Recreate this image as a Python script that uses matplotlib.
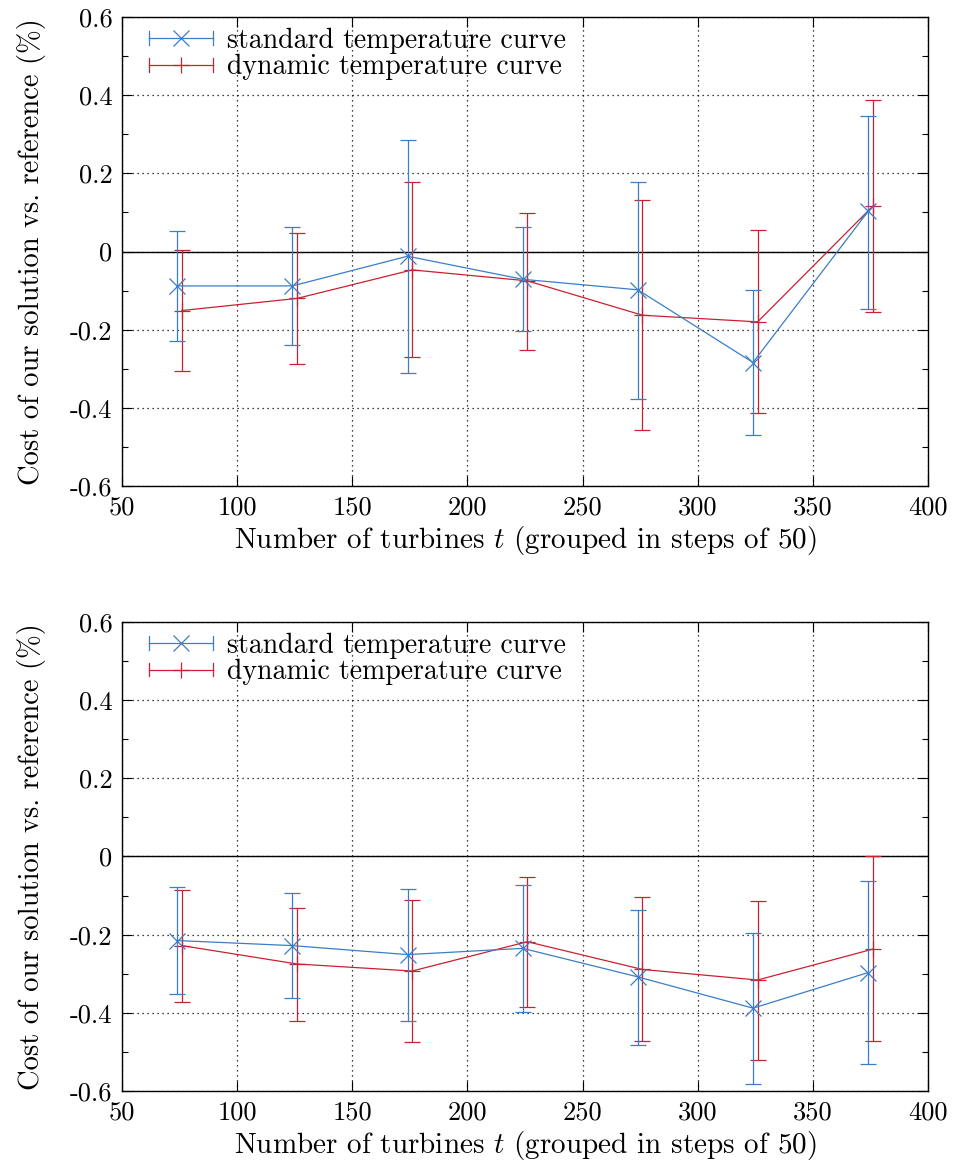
import matplotlib
matplotlib.use("Agg")
import matplotlib.pyplot as plt
from matplotlib.ticker import MultipleLocator
from matplotlib.legend_handler import HandlerBase
from matplotlib.lines import Line2D

plt.rcParams['font.family'] = 'cmr10'
plt.rcParams['mathtext.fontset'] = 'cm'
plt.rcParams['axes.unicode_minus'] = False
plt.rcParams['axes.formatter.use_mathtext'] = False

# group positions (blue slightly left, red slightly right of group centre)
x_std = [74, 124, 174, 224, 274, 324, 374]
x_dyn = [76, 126, 176, 226, 276, 326, 376]

# top panel
top_std = [-0.088, -0.088, -0.012, -0.071, -0.098, -0.284, 0.103]
top_std_hi = [0.052, 0.063, 0.285, 0.064, 0.179, -0.099, 0.348]
top_std_lo = [-0.230, -0.239, -0.312, -0.204, -0.377, -0.470, -0.146]
top_dyn = [-0.151, -0.120, -0.047, -0.075, -0.163, -0.180, 0.116]
top_dyn_hi = [0.003, 0.047, 0.178, 0.098, 0.132, 0.054, 0.388]
top_dyn_lo = [-0.305, -0.287, -0.270, -0.251, -0.457, -0.413, -0.156]

# bottom panel
bot_std = [-0.215, -0.228, -0.251, -0.235, -0.308, -0.388, -0.297]
bot_std_hi = [-0.079, -0.094, -0.083, -0.073, -0.137, -0.195, -0.062]
bot_std_lo = [-0.352, -0.361, -0.421, -0.397, -0.481, -0.581, -0.532]
bot_dyn = [-0.228, -0.275, -0.293, -0.218, -0.289, -0.316, -0.237]
bot_dyn_hi = [-0.085, -0.132, -0.112, -0.052, -0.104, -0.114, 0.0]
bot_dyn_lo = [-0.371, -0.420, -0.474, -0.384, -0.473, -0.520, -0.473]

blue = '#3a7ec8'
red = '#cc2030'


# gnuplot-like legend key: horizontal bar with end caps and the point in the middle
class HBarHandler(HandlerBase):
    def __init__(self, color, marker):
        super().__init__()
        self.color = color
        self.marker = marker

    def create_artists(self, legend, orig_handle, xdescent, ydescent,
                       width, height, fontsize, trans):
        y = height / 2 - ydescent
        x0, x1 = -xdescent, width - xdescent
        cap = 5
        arts = [
            Line2D([x0, x1], [y, y], color=self.color, lw=0.9),
            Line2D([x0, x0], [y - cap, y + cap], color=self.color, lw=0.9),
            Line2D([x1, x1], [y - cap, y + cap], color=self.color, lw=0.9),
            Line2D([(x0 + x1) / 2], [y], color=self.color, marker=self.marker,
                   ms=12, mew=0.9, ls='none'),
        ]
        for a in arts:
            a.set_transform(trans)
        return arts


fig = plt.figure(figsize=(9.59, 11.68), dpi=100)
ax1 = fig.add_axes([0.1272, 0.5839, 0.8405, 0.4015])
ax2 = fig.add_axes([0.1272, 0.0659, 0.8405, 0.4016])


def panel(ax, ys, ys_hi, ys_lo, yd, yd_hi, yd_lo):
    ax.axhline(0, color='black', lw=1.0, zorder=1)
    err_s = [[m - l for m, l in zip(ys, ys_lo)], [h - m for m, h in zip(ys, ys_hi)]]
    err_d = [[m - l for m, l in zip(yd, yd_lo)], [h - m for m, h in zip(yd, yd_hi)]]
    hs = ax.errorbar(x_std, ys, yerr=err_s, color=blue, lw=0.9, elinewidth=0.9,
                     marker='x', ms=12, mew=0.9, capsize=5.5, capthick=0.9, zorder=3)
    hd = ax.errorbar(x_dyn, yd, yerr=err_d, color=red, lw=0.9, elinewidth=0.9,
                     marker='+', ms=12, mew=0.9, capsize=5.5, capthick=0.9, zorder=2)
    ax.set_xlim(50, 400)
    ax.set_ylim(-0.6, 0.6)
    ax.xaxis.set_major_locator(MultipleLocator(50))
    ax.yaxis.set_minor_locator(MultipleLocator(0.1))
    ax.set_yticks([-0.6, -0.4, -0.2, 0, 0.2, 0.4, 0.6])
    ax.set_yticklabels(['-0.6', '-0.4', '-0.2', '0', '0.2', '0.4', '0.6'])
    ax.tick_params(which='both', direction='in', top=True, right=True,
                   labelsize=19, width=0.8)
    ax.tick_params(which='major', length=7, pad=7)
    ax.tick_params(which='minor', length=4)
    ax.grid(True, which='major', color='black', ls=(0, (1, 3)), lw=0.9)
    for s in ax.spines.values():
        s.set_linewidth(1.0)
    ax.set_xlabel(r'Number of turbines $t$ (grouped in steps of 50)', fontsize=21, labelpad=3)
    ax.set_ylabel('Cost of our solution vs. reference (%)', fontsize=20.5, labelpad=17)
    ax.legend([hs, hd], ['standard temperature curve', 'dynamic temperature curve'],
              handler_map={hs: HBarHandler(blue, 'x'), hd: HBarHandler(red, '+')},
              loc='upper left', fontsize=20, frameon=False,
              handlelength=2.3, handleheight=0.6, borderaxespad=0.0,
              handletextpad=0.5, labelspacing=0.0, borderpad=0.2,
              bbox_to_anchor=(0.027, 0.989))


panel(ax1, top_std, top_std_hi, top_std_lo, top_dyn, top_dyn_hi, top_dyn_lo)
panel(ax2, bot_std, bot_std_hi, bot_std_lo, bot_dyn, bot_dyn_hi, bot_dyn_lo)

fig.savefig('out.png', dpi=100)
